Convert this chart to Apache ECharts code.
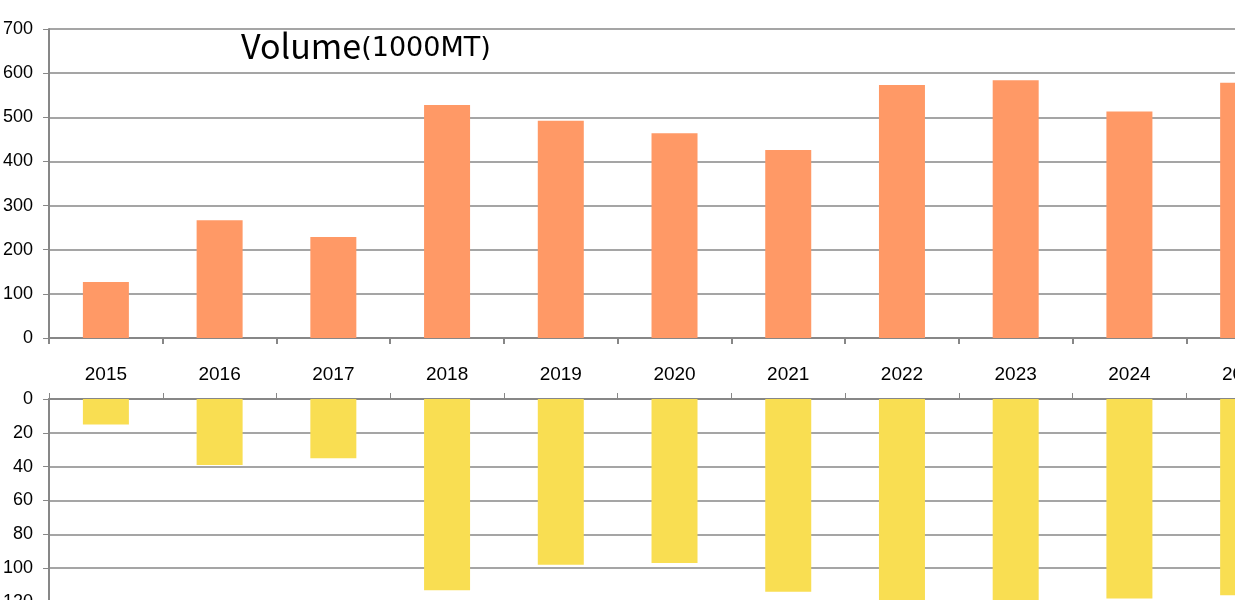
<!DOCTYPE html>
<html>
<head>
<meta charset="utf-8">
<script src="https://cdn.jsdelivr.net/npm/echarts@6/dist/echarts.min.js"></script>
<style>
  html, body { margin: 0; padding: 0; background: #fff; overflow: hidden; }
  /* the reference is a crop of a wider chart, so the canvas runs past the window */
  #chart { width: 1320px; height: 640px; }
</style>
</head>
<body>
<div id="chart"></div>
<script>
const years = ['2015', '2016', '2017', '2018', '2019', '2020', '2021', '2022', '2023', '2024', '2025']
const volumeTop = [127, 267, 229, 528, 492, 464, 426, 573, 584, 513, 578]
const volumeBottom = [15, 39, 35, 113, 98, 97, 114, 120, 119, 118, 116]

const axisGray = '#878787'
const fontFamily = 'Liberation Sans, Arial, sans-serif'

const myChart = echarts.init(document.getElementById('chart'))
myChart.setOption({
  animation: false,
  title: {
    text: '{a|Volume}{b|(1000MT)}',
    left: 236,
    top: 24,
    textStyle: {
      fontWeight: 'normal',
      rich: {
        a: { fontSize: 34, fontFamily: 'Noto Sans CJK KR', fontWeight: 'normal', color: '#000' },
        b: { fontSize: 27, fontFamily: 'DejaVu Sans', fontWeight: 'normal', color: '#000', padding: [6, 0, 0, 0] }
      }
    }
  },
  grid: [
    { left: 46, top: 29, width: 1254, height: 309 },
    { left: 46, top: 399, width: 1254, height: 203 }
  ],
  xAxis: [
    {
      type: 'category',
      gridIndex: 0,
      data: years,
      axisLine: { lineStyle: { color: axisGray, width: 2 } },
      axisTick: { show: true, length: 6, lineStyle: { color: axisGray, width: 2 } },
      axisLabel: { margin: 27, color: '#000', fontSize: 19, fontFamily: fontFamily }
    },
    {
      type: 'category',
      gridIndex: 1,
      position: 'top',
      data: years,
      axisLine: { lineStyle: { color: axisGray, width: 2 } },
      axisTick: { show: true, length: 6, lineStyle: { color: axisGray, width: 1 } },
      axisLabel: { show: false }
    }
  ],
  yAxis: [
    {
      type: 'value',
      gridIndex: 0,
      min: 0,
      max: 700,
      interval: 100,
      axisLine: { show: true, lineStyle: { color: axisGray, width: 2 } },
      axisTick: { show: true, length: 6, lineStyle: { color: axisGray } },
      splitLine: { lineStyle: { color: axisGray, width: 1.5 } },
      axisLabel: { margin: 16, color: '#000', fontSize: 18, fontFamily: fontFamily }
    },
    {
      type: 'value',
      gridIndex: 1,
      inverse: true,
      min: 0,
      max: 120,
      interval: 20,
      axisLine: { show: true, lineStyle: { color: axisGray, width: 2 } },
      axisTick: { show: true, length: 6, lineStyle: { color: axisGray } },
      splitLine: { lineStyle: { color: axisGray, width: 1.5 } },
      axisLabel: { margin: 16, color: '#000', fontSize: 18, fontFamily: fontFamily }
    }
  ],
  series: [
    {
      type: 'bar',
      xAxisIndex: 0,
      yAxisIndex: 0,
      data: volumeTop,
      barWidth: 46,
      itemStyle: { color: '#FF9966' }
    },
    {
      type: 'bar',
      xAxisIndex: 1,
      yAxisIndex: 1,
      data: volumeBottom,
      barWidth: 46,
      itemStyle: { color: '#F9DE52' }
    }
  ]
})
</script>
</body>
</html>
